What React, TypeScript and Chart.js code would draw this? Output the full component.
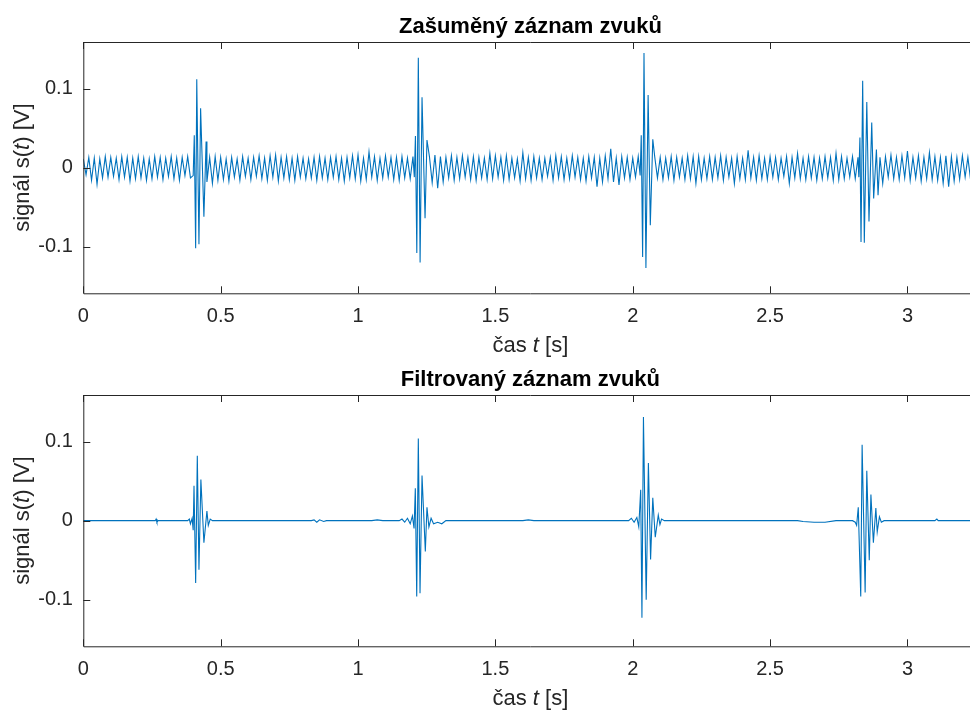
import { useEffect, useRef } from "react";
import { Chart, registerables } from "chart.js";

Chart.register(...registerables);

// ---- data ---------------------------------------------------------------

// mains hum in the noisy record, sampled every half period (peak / trough), in volts
const HUM_STEP = 0.01; // s
const noisyHum: number[] = [
  0.011, -0.009, 0.013, -0.016, 0.012, -0.021, 0.011, -0.013, 0.014, -0.012,
  0.013, -0.011, 0.012, -0.015, 0.014, -0.012, 0.013, -0.017, 0.012, -0.014,
  0.014, -0.013, 0.012, -0.016, 0.011, -0.014, 0.014, -0.012, 0.013, -0.015,
  0.012, -0.011, 0.014, -0.014, 0.012, -0.016, 0.013, -0.010, 0.014, -0.013,
  0.015, -0.012, 0.015, -0.014, 0.014, -0.018, 0.013, -0.020, 0.014, -0.016,
  0.013, -0.015, 0.011, -0.017, 0.013, -0.012, 0.011, -0.016, 0.014, -0.011,
  0.012, -0.015, 0.013, -0.011, 0.015, -0.014, 0.012, -0.016, 0.015, -0.012,
  0.016, -0.017, 0.013, -0.013, 0.014, -0.015, 0.012, -0.016, 0.014, -0.012,
  0.012, -0.014, 0.011, -0.013, 0.013, -0.016, 0.014, -0.013, 0.012, -0.015,
  0.013, -0.012, 0.014, -0.015, 0.012, -0.017, 0.013, -0.013, 0.015, -0.014,
  0.016, -0.017, 0.012, -0.015, 0.020, -0.012, 0.014, -0.016, 0.012, -0.013,
  0.015, -0.012, 0.013, -0.015, 0.013, -0.016, 0.014, -0.013, 0.012, -0.014,
  0.014, -0.013, 0.012, -0.015, 0.013, -0.016, 0.014, -0.019, 0.016, -0.026,
  0.014, -0.018, 0.013, -0.013, 0.015, -0.016, 0.013, -0.014, 0.015, -0.012,
  0.013, -0.015, 0.014, -0.016, 0.013, -0.013, 0.012, -0.015, 0.018, -0.014,
  0.015, -0.012, 0.013, -0.016, 0.015, -0.015, 0.012, -0.013, 0.011, -0.017,
  0.019, -0.014, 0.013, -0.016, 0.014, -0.013, 0.012, -0.015, 0.012, -0.011,
  0.013, -0.016, 0.015, -0.013, 0.014, -0.015, 0.012, -0.014, 0.015, -0.012,
  0.013, -0.015, 0.012, -0.017, 0.014, -0.013, 0.013, -0.024, 0.012, -0.018,
  0.015, -0.014, 0.024, -0.018, 0.012, -0.022, 0.014, -0.013, 0.013, -0.015,
  0.012, -0.012, 0.014, -0.014, 0.013, -0.015, 0.013, -0.016, 0.014, -0.013,
  0.013, -0.015, 0.012, -0.013, 0.014, -0.016, 0.013, -0.012, 0.012, -0.015,
  0.015, -0.014, 0.014, -0.020, 0.014, -0.015, 0.012, -0.014, 0.014, -0.015,
  0.013, -0.013, 0.015, -0.016, 0.013, -0.012, 0.012, -0.020, 0.014, -0.014,
  0.012, -0.015, 0.022, -0.013, 0.013, -0.016, 0.015, -0.014, 0.012, -0.015,
  0.014, -0.012, 0.013, -0.015, 0.012, -0.011, 0.014, -0.020, 0.013, -0.013,
  0.018, -0.014, 0.012, -0.015, 0.014, -0.013, 0.013, -0.016, 0.012, -0.014,
  0.014, -0.013, 0.013, -0.016, 0.018, -0.015, 0.014, -0.014, 0.012, -0.012,
  0.014, -0.014, 0.013, -0.015, 0.014, -0.016, 0.013, -0.015, 0.014, -0.017,
  0.013, -0.020, 0.014, -0.012, 0.016, -0.014, 0.013, -0.015, 0.015, -0.013,
  0.021, -0.016, 0.013, -0.013, 0.015, -0.017, 0.013, -0.014, 0.019, -0.015,
  0.014, -0.016, 0.013, -0.020, 0.015, -0.024, 0.014, -0.017, 0.013, -0.015,
  0.015, -0.012, 0.013, -0.016, 0.014, -0.013,
];

// the four clicks in the noisy record: [time s, value V]
const noisyClick1: [number, number][] = [
  [0.400, -0.010], [0.404, 0.041], [0.409, -0.102], [0.413, 0.112],
  [0.421, -0.097], [0.427, 0.075], [0.439, -0.062], [0.447, 0.033],
];
const noisyClick2: [number, number][] = [
  [1.205, -0.012], [1.209, 0.040], [1.214, -0.108], [1.2195, 0.139],
  [1.226, -0.120], [1.233, 0.089], [1.244, -0.064], [1.251, 0.035],
];
const noisyClick3: [number, number][] = [
  [2.027, -0.010], [2.031, 0.041], [2.036, -0.113], [2.041, 0.145],
  [2.048, -0.127], [2.056, 0.092], [2.064, -0.073], [2.073, 0.036],
];
const noisyClick4: [number, number][] = [
  [2.823, -0.012], [2.827, 0.038], [2.831, -0.094], [2.837, 0.110],
  [2.843, -0.095], [2.852, 0.083], [2.860, -0.068], [2.870, 0.057],
  [2.877, -0.039], [2.887, 0.023], [2.893, -0.035],
];

// filtered record: near-flat baseline with small residue, [time s, value V]
const filteredBaseline: [number, number][] = [
  [0, 0], [0.262, 0], [0.265, 0.002], [0.268, -0.002], [0.272, 0],
  [0.83, 0], [0.84, 0.001], [0.85, -0.002], [0.86, 0.001], [0.875, -0.001], [0.885, 0],
  [1.05, 0], [1.07, 0.001], [1.09, 0], [1.6, 0], [1.62, 0.001], [1.64, 0],
  [2.6, 0], [2.62, -0.001], [2.66, -0.002], [2.7, -0.002], [2.74, 0],
  [3.1, 0], [3.107, 0.002], [3.112, 0], [3.26, 0],
];

const filteredClick1: [number, number][] = [
  [0.380, 0], [0.386, 0.002], [0.390, -0.004], [0.396, 0.003], [0.400, -0.012],
  [0.403, 0.044], [0.409, -0.079], [0.415, 0.082], [0.421, -0.062], [0.428, 0.052],
  [0.439, -0.028], [0.450, 0.012], [0.455, -0.006], [0.462, 0.002], [0.470, 0],
];
const filteredClick2: [number, number][] = [
  [1.150, 0], [1.160, 0.002], [1.170, -0.002], [1.180, 0.003], [1.190, -0.004],
  [1.198, 0.006], [1.204, -0.010], [1.2086, 0.041], [1.2137, -0.096], [1.2195, 0.104],
  [1.2257, -0.092], [1.233, 0.057], [1.245, -0.039], [1.251, 0.017], [1.258, -0.008],
  [1.266, 0.003], [1.275, -0.004], [1.290, -0.002], [1.305, -0.004], [1.320, 0],
];
const filteredClick3: [number, number][] = [
  [1.985, 0], [1.995, 0.003], [2.005, -0.002], [2.015, 0.004], [2.022, -0.008],
  [2.029, 0.039], [2.0335, -0.123], [2.039, 0.131], [2.049, -0.100], [2.057, 0.073],
  [2.065, -0.049], [2.073, 0.029], [2.082, -0.021], [2.093, 0.007], [2.099, -0.005],
  [2.105, 0.002], [2.115, 0],
];
const filteredClick4: [number, number][] = [
  [2.800, 0], [2.810, -0.002], [2.815, -0.006], [2.821, 0.017], [2.830, -0.096],
  [2.835, 0.096], [2.846, -0.091], [2.852, 0.063], [2.861, -0.050], [2.867, 0.033],
  [2.876, -0.028], [2.885, 0.016], [2.890, -0.014], [2.898, 0.005], [2.905, -0.002],
  [2.915, 0],
];

const xTicks = [0, 0.5, 1, 1.5, 2, 2.5, 3];
const yTicks = [-0.1, 0, 0.1];
const T_MAX = 3.255;
const Y_LIM = 0.159;

const titleNoisy = "Zašuměný záznam zvuků";
const titleFiltered = "Filtrovaný záznam zvuků";

// ---- helpers -------------------------------------------------------------

type Pair = [number, number];

function mergeRecord(base: Pair[], clicks: Pair[][]) {
  const windows = clicks.map((c) => [c[0][0], c[c.length - 1][0]]);
  const kept = base.filter(([t]) => !windows.some(([a, b]) => t >= a && t <= b));
  return [...kept, ...clicks.flat()]
    .sort((p, q) => p[0] - q[0])
    .map(([x, y]) => ({ x, y }));
}

const noisyPoints = mergeRecord(
  noisyHum.map((v, i) => [i * HUM_STEP, v] as Pair),
  [noisyClick1, noisyClick2, noisyClick3, noisyClick4]
);
const filteredPoints = mergeRecord(filteredBaseline, [
  filteredClick1, filteredClick2, filteredClick3, filteredClick4,
]);

const FONT = '"Liberation Sans", Arial, Helvetica, sans-serif';
const AXIS_COLOR = "#262626";
const LINE_COLOR = "#0072BD";
const CANVAS_W = 980; // axes box runs a little past the visible page edge
const CANVAS_H = 357;

type Seg = { text: string; italic?: boolean };

function drawRich(ctx: CanvasRenderingContext2D, segs: Seg[], cx: number, y: number, size: number) {
  const fontOf = (s: Seg) => `${s.italic ? "italic " : ""}${size}px ${FONT}`;
  let total = 0;
  const widths = segs.map((s) => {
    ctx.font = fontOf(s);
    const w = ctx.measureText(s.text).width;
    total += w;
    return w;
  });
  let x = cx - total / 2;
  ctx.textAlign = "left";
  ctx.textBaseline = "alphabetic";
  segs.forEach((s, i) => {
    ctx.font = fontOf(s);
    ctx.fillText(s.text, x, y);
    x += widths[i];
  });
}

const xLabel: Seg[] = [{ text: "čas " }, { text: "t", italic: true }, { text: " [s]" }];
const yLabel: Seg[] = [
  { text: "signál s(" }, { text: "t", italic: true }, { text: ") [V]" },
];

function makeFrame(title: string) {
  return {
    id: "matlabFrame",
    afterDatasetsDraw(chart: any) {
      const { ctx, chartArea: a, scales } = chart;
      const tick = 7;
      ctx.save();
      ctx.strokeStyle = AXIS_COLOR;
      ctx.lineWidth = 1;
      ctx.beginPath();
      ctx.rect(a.left + 0.5, a.top + 0.5, a.right - a.left - 1, a.bottom - a.top);
      xTicks.forEach((v) => {
        const px = Math.round(scales.x.getPixelForValue(v)) + 0.5;
        ctx.moveTo(px, a.bottom);
        ctx.lineTo(px, a.bottom - tick);
        ctx.moveTo(px, a.top);
        ctx.lineTo(px, a.top + tick);
      });
      yTicks.forEach((v) => {
        const py = Math.round(scales.y.getPixelForValue(v)) + 0.5;
        ctx.moveTo(a.left, py);
        ctx.lineTo(a.left + tick, py);
        ctx.moveTo(a.right, py);
        ctx.lineTo(a.right - tick, py);
      });
      ctx.stroke();
      ctx.restore();
    },
    afterDraw(chart: any) {
      const { ctx, chartArea: a } = chart;
      const cx = (a.left + a.right) / 2;
      ctx.save();
      ctx.fillStyle = "#000000";
      ctx.font = `bold 22px ${FONT}`;
      ctx.textAlign = "center";
      ctx.textBaseline = "alphabetic";
      ctx.fillText(title, cx, a.top - 9);
      ctx.fillStyle = AXIS_COLOR;
      drawRich(ctx, xLabel, cx, a.bottom + 59, 22);
      ctx.translate(28.5, (a.top + a.bottom) / 2);
      ctx.rotate(-Math.PI / 2);
      drawRich(ctx, yLabel, 0, 0, 22);
      ctx.restore();
    },
  };
}

// ---- components ----------------------------------------------------------

function SignalPanel({ title, points, top }: { title: string; points: { x: number; y: number }[]; top: number }) {
  const ref = useRef<HTMLCanvasElement | null>(null);

  useEffect(() => {
    if (!ref.current) return;
    const chart = new Chart(ref.current, {
      type: "line",
      data: {
        datasets: [
          {
            data: points,
            borderColor: LINE_COLOR,
            borderWidth: 1.1,
            pointRadius: 0,
            tension: 0,
            fill: false,
          },
        ],
      },
      options: {
        animation: false,
        responsive: false,
        parsing: false,
        normalized: true,
        layout: { padding: { top: 42, left: 0, right: 2.5, bottom: CANVAS_H - 293.3 - 40 } },
        plugins: { legend: { display: false }, tooltip: { enabled: false }, title: { display: false } },
        scales: {
          x: {
            type: "linear",
            min: 0,
            max: T_MAX,
            grid: { display: false, drawTicks: false },
            border: { display: false },
            afterBuildTicks: (s: any) => {
              s.ticks = xTicks.map((value) => ({ value }));
            },
            afterFit: (s: any) => {
              s.height = 40;
            },
            ticks: {
              padding: 11,
              maxRotation: 0,
              autoSkip: false,
              color: AXIS_COLOR,
              font: { family: FONT, size: 20 },
              callback: (v: any) => String(v),
            },
          },
          y: {
            type: "linear",
            min: -Y_LIM,
            max: Y_LIM,
            grid: { display: false, drawTicks: false },
            border: { display: false },
            afterBuildTicks: (s: any) => {
              s.ticks = yTicks.map((value) => ({ value }));
            },
            afterFit: (s: any) => {
              s.width = 83.3;
            },
            ticks: {
              padding: 10.5,
              autoSkip: false,
              color: AXIS_COLOR,
              font: { family: FONT, size: 20 },
              callback: (v: any) => String(v),
            },
          },
        },
      },
      plugins: [makeFrame(title)],
    });
    return () => chart.destroy();
  }, [title, points]);

  return (
    <canvas
      ref={ref}
      width={CANVAS_W}
      height={CANVAS_H}
      style={{ position: "absolute", left: 0, top, width: CANVAS_W, height: CANVAS_H }}
    />
  );
}

export default function App() {
  return (
    <div style={{ position: "absolute", left: 0, top: 0, width: 970, height: 710, background: "#ffffff", overflow: "hidden" }}>
      <SignalPanel title={titleNoisy} points={noisyPoints} top={0} />
      <SignalPanel title={titleFiltered} points={filteredPoints} top={353} />
    </div>
  );
}
